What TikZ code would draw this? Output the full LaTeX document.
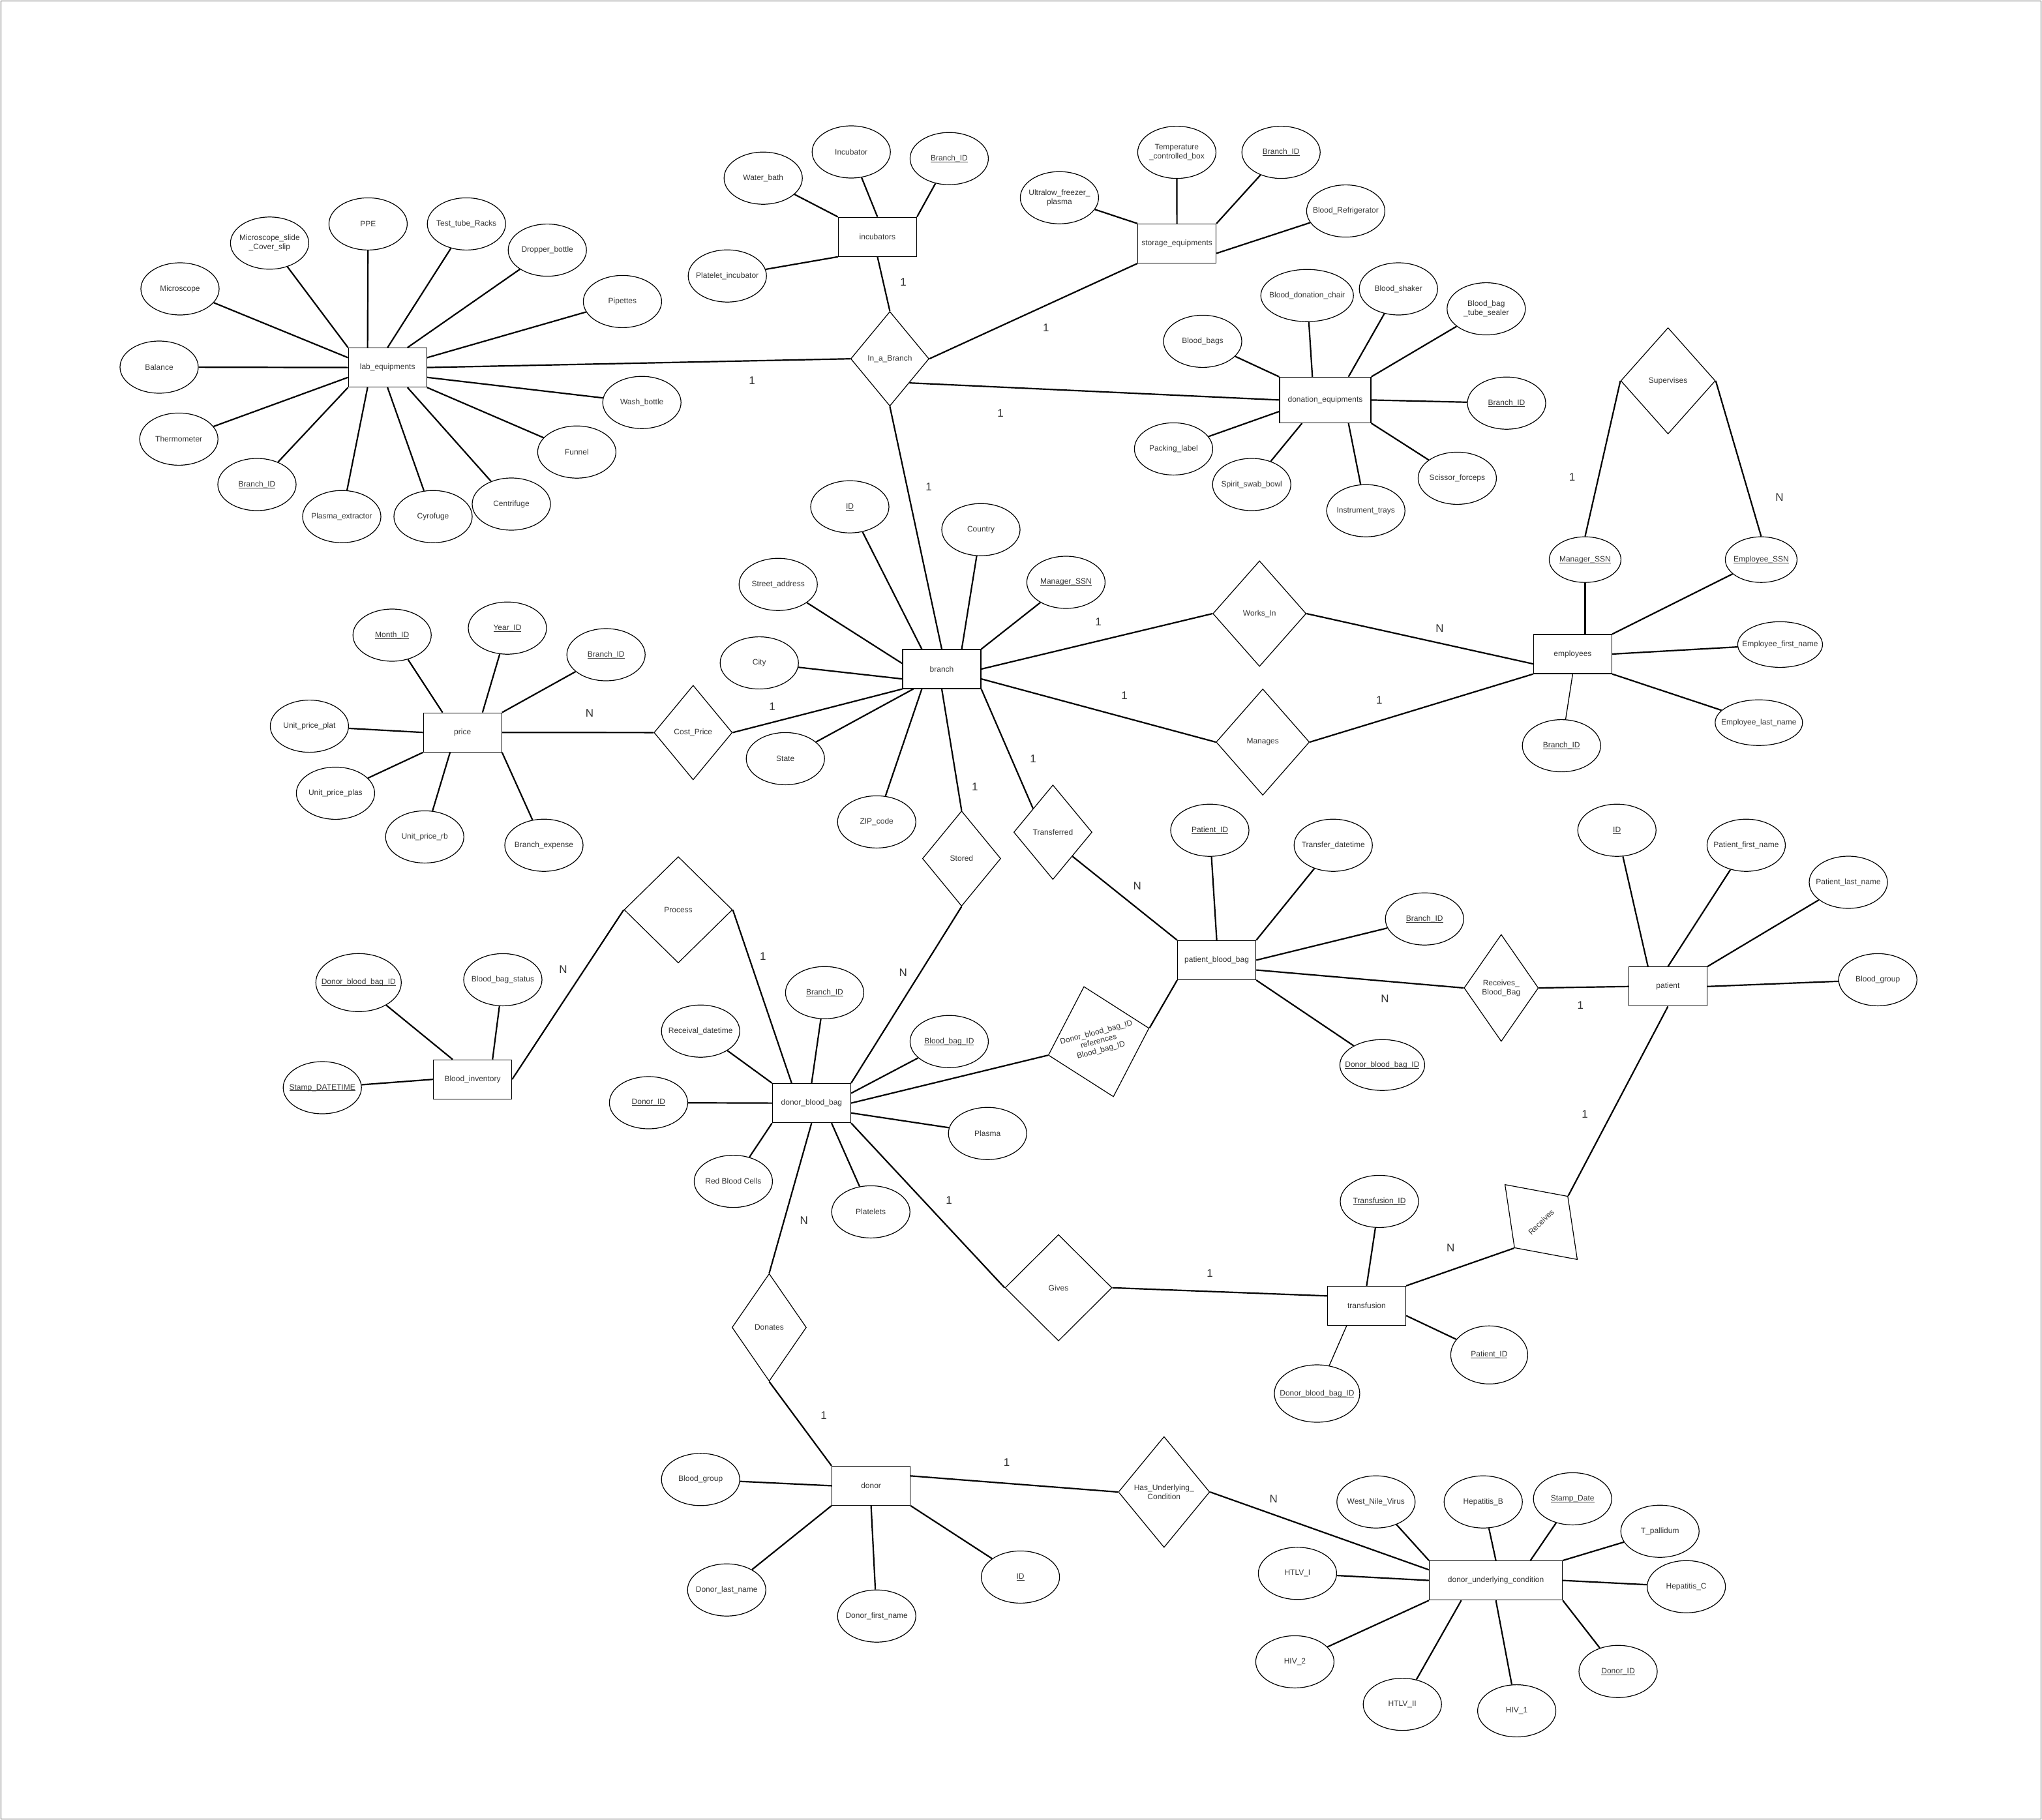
\documentclass[tikz,border=0pt]{standalone}
\usepackage{amsmath}
\usepackage{fontspec}
\setmainfont{Liberation Sans}
\usepackage{tikz}
\usetikzlibrary{shapes.geometric}

\newcommand{\keyattr}[1]{\underline{\smash[b]{#1}}}

\begin{document}
\begin{tikzpicture}[x=2pt, y=-2pt,
    every node/.style={font=\fontsize{12}{14}\selectfont, text=black!80, align=center},
    entity/.style={rectangle, draw=black, line width=1.2pt, minimum width=120pt, minimum height=60pt, inner sep=0pt},
    attr/.style={ellipse, draw=black, line width=1.2pt, minimum width=120pt, minimum height=80pt, inner xsep=-30pt, inner ysep=0pt},
    rel/.style={diamond, draw=black, line width=1.2pt, minimum width=120pt, minimum height=145pt, inner sep=0pt},
    card/.style={font=\fontsize{17}{20}\selectfont},
    link/.style={line width=2.2pt},
    thinlink/.style={line width=1.3pt}]
\useasboundingbox (0,0) rectangle (1565.5,1395.5);
\draw[line width=1.2pt, black!70] (0.6,0.6) rectangle (1564.9,1394.9);

% entities
\node[entity] (lab) at (297.1,281.8) {lab\_equipments};
\node[entity] (inc) at (672.7,181.6) {incubators};
\node[entity] (stor) at (902.3,186.7) {storage\_equipments};
\node[entity, minimum width=140pt, minimum height=70pt] (don) at (1016,306.7) {donation\_equipments};
\node[entity] (br) at (722,513) {branch};
\node[entity] (pr) at (354.6,561.6) {price};
\node[entity] (emp) at (1205.7,501.5) {employees};
\node[entity] (pbb) at (932.8,736.2) {patient\_blood\_bag};
\node[entity] (pat) at (1278.7,756.4) {patient};
\node[entity] (dbb) at (622.2,845.8) {donor\_blood\_bag};
\node[entity] (bi) at (362.3,827.6) {Blood\_inventory};
\node[entity] (dn) at (667.8,1139.2) {donor};
\node[entity] (tr) at (1047.7,1001.2) {transfusion};
\node[entity, minimum width=204pt] (duc) at (1146.8,1211.8) {donor\_underlying\_condition};

% relationships
\node[rel] (inb) at (682.2,275.1) {In\_a\_Branch};
\node[rel] (cost) at (531.4,561.7) {Cost\_Price};
\node[rel, minimum width=143pt, minimum height=162pt] (works) at (965.6,470.5) {Works\_In};
\node[rel, minimum width=143pt, minimum height=163pt] (manages) at (968.1,569) {Manages};
\node[rel, minimum width=145pt, minimum height=163pt] (sup) at (1278.8,292) {Supervises};
\node[rel, minimum height=146pt] (stored) at (737.2,658.3) {Stored};
\node[rel] (transf) at (807.2,638.1) {Transferred};
\node[rel, minimum width=166pt, minimum height=163pt] (proc) at (520,697.6) {Process};
\node[rel, rotate=15, minimum width=160pt, minimum height=175pt] (refs) at (842.3,798.7) {Donor\_blood\_bag\_ID\\references\\Blood\_bag\_ID};
\node[rel, minimum width=114pt, minimum height=164pt] (rbb) at (1150.9,757.5) {Receives\_\\Blood\_Bag};
\node[rel, rotate=44, minimum width=114pt, minimum height=160pt] (rec) at (1181.5,937) {Receives};
\node[rel, minimum width=164pt, minimum height=163pt] (gives) at (811.5,987.4) {Gives};
\node[rel, minimum width=114pt, minimum height=165pt] (donates) at (589.7,1017.8) {Donates};
\node[rel, minimum width=140pt, minimum height=170pt] (huc) at (892.4,1144) {Has\_Underlying\_\\Condition};

% attributes of lab_equipments
\node[attr] (micro) at (138.0,221.5) {Microscope};
\node[attr] (slide) at (206.7,186.4) {Microscope\_slide\\\_Cover\_slip};
\node[attr] (ppe) at (282.2,171.7) {PPE};
\node[attr] (racks) at (357.6,171.7) {Test\_tube\_Racks};
\node[attr] (dropper) at (419.6,191.8) {Dropper\_bottle};
\node[attr] (pipettes) at (477.2,231.2) {Pipettes};
\node[attr] (washb) at (492.1,308.6) {Wash\_bottle};
\node[attr] (funnel) at (442.2,346.6) {Funnel};
\node[attr] (centrif) at (392.0,386.5) {Centrifuge};
\node[attr] (cyro) at (332.0,396.1) {Cyrofuge};
\node[attr] (plasmaex) at (262.0,396.1) {Plasma\_extractor};
\node[attr] (labbid) at (197.0,371.5) {\keyattr{Branch\_ID}};
\node[attr] (thermo) at (137.1,336.7) {Thermometer};
\node[attr] (balance) at (122.0,281.5) {Balance};

% attributes of incubators
\node[attr] (waterbath) at (585.1,136.6) {Water\_bath};
\node[attr] (incubator) at (652.6,116.5) {Incubator};
\node[attr] (incbid) at (727.7,121.6) {\keyattr{Branch\_ID}};
\node[attr] (platinc) at (557.6,211.6) {Platelet\_incubator};

% attributes of storage_equipments
\node[attr] (ultralow) at (812.2,151.6) {Ultralow\_freezer\_\\plasma};
\node[attr] (tempbox) at (902.2,116.8) {Temperature\\\_controlled\_box};
\node[attr] (storbid) at (982.1,116.8) {\keyattr{Branch\_ID}};
\node[attr] (fridge) at (1031.7,161.8) {Blood\_Refrigerator};

% attributes of donation_equipments
\node[attr] (bags) at (922,261.7) {Blood\_bags};
\node[attr, minimum width=142pt] (chair) at (1002.1,226.6) {Blood\_donation\_chair};
\node[attr] (shaker) at (1072.1,221.5) {Blood\_shaker};
\node[attr] (sealer) at (1139.4,236.8) {Blood\_bag\\\_tube\_sealer};
\node[attr] (donbid) at (1155,309.1) {\keyattr{Branch\_ID}};
\node[attr] (scissor) at (1117.2,366.7) {Scissor\_forceps};
\node[attr] (trays) at (1047.1,391.6) {Instrument\_trays};
\node[attr] (swab) at (959.6,371.5) {Spirit\_swab\_bowl};
\node[attr] (packing) at (899.7,344.2) {Packing\_label};

% attributes of branch
\node[attr] (brid) at (651.5,388.6) {\keyattr{ID}};
\node[attr] (country) at (752.0,406.1) {Country};
\node[attr] (brmgr) at (817.2,446.5) {\keyattr{Manager\_SSN}};
\node[attr] (street) at (596.6,448.1) {Street\_address};
\node[attr] (city) at (582.1,508.3) {City};
\node[attr] (state) at (602.1,581.7) {State};
\node[attr] (zip) at (672.1,630.2) {ZIP\_code};

% attributes of price
\node[attr] (month) at (300.6,487.0) {\keyattr{Month\_ID}};
\node[attr] (year) at (389.0,481.6) {\keyattr{Year\_ID}};
\node[attr] (prbid) at (464.6,502) {\keyattr{Branch\_ID}};
\node[attr] (plat) at (237.2,556.8) {Unit\_price\_plat};
\node[attr] (plas) at (257.2,608.2) {Unit\_price\_plas};
\node[attr] (rb) at (325.6,641.7) {Unit\_price\_rb};
\node[attr] (bexp) at (417,648.1) {Branch\_expense};

% attributes of employees
\node[attr, minimum width=110pt, minimum height=70pt] (mgrssn) at (1215.2,429.1) {\keyattr{Manager\_SSN}};
\node[attr, minimum width=110pt, minimum height=70pt] (essn) at (1350.2,429.1) {\keyattr{Employee\_SSN}};
\node[attr, minimum width=130pt, minimum height=70pt] (efn) at (1364.7,494.2) {Employee\_first\_name};
\node[attr, minimum width=134pt, minimum height=70pt] (eln) at (1348.4,554.1) {Employee\_last\_name};
\node[attr] (empbid) at (1197.1,571.8) {\keyattr{Branch\_ID}};

% attributes of patient_blood_bag
\node[attr] (pid) at (927.5,636.6) {\keyattr{Patient\_ID}};
\node[attr] (tdt) at (1022.1,648.1) {Transfer\_datetime};
\node[attr] (pbbbid) at (1092.1,704.6) {\keyattr{Branch\_ID}};
\node[attr, minimum width=130pt, minimum height=78pt] (pbbdbb) at (1059.7,816.6) {\keyattr{Donor\_blood\_bag\_ID}};

% attributes of patient
\node[attr] (patid) at (1239.6,636.6) {\keyattr{ID}};
\node[attr] (pfn) at (1338.7,648.1) {Patient\_first\_name};
\node[attr] (pln) at (1417.0,676.5) {Patient\_last\_name};
\node[attr] (pbg) at (1439.6,751.2) {Blood\_group};

% attributes of donor_blood_bag
\node[attr] (dbbbid) at (632.2,761.1) {\keyattr{Branch\_ID}};
\node[attr] (recdt) at (537.1,790.6) {Receival\_datetime};
\node[attr] (bbid) at (727.7,798.6) {\keyattr{Blood\_bag\_ID}};
\node[attr] (dbbdid) at (497.2,845.5) {\keyattr{Donor\_ID}};
\node[attr] (plasma) at (757.1,869.1) {Plasma};
\node[attr] (rbc) at (562.2,905.8) {Red Blood Cells};
\node[attr] (platelets) at (667.6,929.2) {Platelets};

% attributes of Blood_inventory
\node[attr, minimum width=131pt, minimum height=89pt] (bidbb) at (274.9,753.4) {\keyattr{Donor\_blood\_bag\_ID}};
\node[attr] (bbs) at (385.5,751.2) {Blood\_bag\_status};
\node[attr] (stamp) at (247.1,834) {\keyattr{Stamp\_DATETIME}};

% attributes of donor
\node[attr] (dbg) at (537.1,1134.4) {Blood\_group};
\node[attr] (dln) at (557.1,1219.1) {Donor\_last\_name};
\node[attr] (dfn) at (672.1,1239.1) {Donor\_first\_name};
\node[attr] (dnid) at (782.3,1209.2) {\keyattr{ID}};

% attributes of transfusion
\node[attr] (trid) at (1057.5,921.2) {\keyattr{Transfusion\_ID}};
\node[attr, minimum width=118pt, minimum height=89pt] (trpid) at (1141.7,1038.9) {\keyattr{Patient\_ID}};
\node[attr, minimum width=131pt, minimum height=88pt] (trdbb) at (1009.7,1068.5) {\keyattr{Donor\_blood\_bag\_ID}};

% attributes of donor_underlying_condition
\node[attr] (wnv) at (1054.9,1151.6) {West\_Nile\_Virus};
\node[attr] (hepb) at (1137.1,1151.6) {Hepatitis\_B};
\node[attr] (stampd) at (1205.6,1149.2) {\keyattr{Stamp\_Date}};
\node[attr] (tpal) at (1272.6,1174.1) {T\_pallidum};
\node[attr] (hepc) at (1292.8,1216.6) {Hepatitis\_C};
\node[attr] (ducdid) at (1240.5,1281.6) {\keyattr{Donor\_ID}};
\node[attr] (hiv1) at (1162.8,1311.8) {HIV\_1};
\node[attr] (htlv2) at (1075.1,1306.8) {HTLV\_II};
\node[attr] (hiv2) at (992.7,1274.2) {HIV\_2};
\node[attr] (htlv1) at (994.7,1206.4) {HTLV\_I};

% lab_equipments
\draw[link] (lab.166) -- (micro);
\draw[link] (lab.north west) -- (slide);
\draw[link] (lab.135) -- (ppe);
\draw[link] (lab.north) -- (racks);
\draw[link] (lab.45) -- (dropper);
\draw[link] (lab.14) -- (pipettes);
\draw[link] (lab.east) -- (inb.west);
\draw[link] (lab.-14) -- (washb);
\draw[link] (lab.south east) -- (funnel);
\draw[link] (lab.-45) -- (centrif);
\draw[link] (lab.south) -- (cyro);
\draw[link] (lab.225) -- (plasmaex);
\draw[link] (lab.south west) -- (labbid);
\draw[link] (lab.194) -- (thermo);
\draw[link] (lab.west) -- (balance);

% incubators
\draw[link] (inc.north west) -- (waterbath);
\draw[link] (inc.north) -- (incubator);
\draw[link] (inc.north east) -- (incbid);
\draw[link] (inc.south west) -- (platinc);
\draw[link] (inc.south) -- (inb.north);

% storage_equipments
\draw[link] (stor.north west) -- (ultralow);
\draw[link] (stor.north) -- (tempbox);
\draw[link] (stor.north east) -- (storbid);
\draw[link] (stor.-14) -- (fridge);
\draw[link] (stor.south west) -- (inb.east);

% donation_equipments
\draw[link] (don.north west) -- (bags);
\draw[link] (don.119) -- (chair);
\draw[link] (don.45) -- (shaker);
\draw[link] (don.north east) -- (sealer);
\draw[link] (don.east) -- (donbid);
\draw[link] (don.south east) -- (scissor);
\draw[link] (don.-45) -- (trays);
\draw[link] (don.225) -- (swab);
\draw[link] (don.194) -- (packing);
\draw[link] (don.west) -- (inb.-51);

% branch
\draw[link] (inb.south) -- (br.north);
\draw[link] (br.135) -- (brid);
\draw[link] (br.45) -- (country);
\draw[link] (br.north east) -- (brmgr);
\draw[link] (br.172) -- (street);
\draw[link] (br.194) -- (city);
\draw[link] (br.215) -- (state);
\draw[link] (br.225) -- (zip);
\draw[link] (br.south west) -- (cost.east);
\draw[link] (br.south) -- (stored.north);
\draw[link] (br.south east) -- (transf.130);
\draw[link] (br.east) -- (works.west);
\draw[link] (br.-14) -- (manages.west);

% price
\draw[link] (pr.135) -- (month);
\draw[link] (pr.45) -- (year);
\draw[link] (pr.north east) -- (prbid);
\draw[link] (pr.west) -- (plat);
\draw[link] (pr.south west) -- (plas);
\draw[link] (pr.238) -- (rb);
\draw[link] (pr.south east) -- (bexp);
\draw[link] (pr.east) -- (cost.west);

% employees
\draw[link] (works.east) -- (emp.194);
\draw[link] (manages.east) -- (emp.south west);
\draw[link] (sup.west) -- (mgrssn.north);
\draw[link] (sup.east) -- (essn.north);
\draw[link] (mgrssn.south) -- (mgrssn.south |- emp.north);
\draw[link] (emp.north east) -- (essn);
\draw[link] (emp.east) -- (efn);
\draw[link] (emp.south east) -- (eln);
\draw[thinlink] (emp.south) -- (empbid);

% patient_blood_bag
\draw[link] (transf.-51) -- (pbb.north west);
\draw[link] (pbb.north) -- (pid);
\draw[link] (pbb.north east) -- (tdt);
\draw[link] (pbb.east) -- (pbbbid);
\draw[link] (pbb.-14) -- (rbb.west);
\draw[link] (pbb.south east) -- (pbbdbb);
\draw[link] (pbb.south west) -- (refs.east);

% patient
\draw[link] (pat.135) -- (patid);
\draw[link] (pat.north) -- (pfn);
\draw[link] (pat.north east) -- (pln);
\draw[link] (pat.east) -- (pbg);
\draw[link] (pat.west) -- (rbb.east);
\draw[link] (pat.south) -- (rec.east);

% donor_blood_bag
\draw[link] (dbb.north west) -- (recdt);
\draw[link] (dbb.135) -- (proc.east);
\draw[link] (dbb.north) -- (dbbbid);
\draw[link] (dbb.north east) -- (stored.south);
\draw[link] (dbb.14) -- (bbid);
\draw[link] (dbb.east) -- (refs.west);
\draw[link] (dbb.-14) -- (plasma);
\draw[link] (dbb.south east) -- (gives.west);
\draw[link] (dbb.-45) -- (platelets);
\draw[link] (dbb.south) -- (donates.north);
\draw[link] (dbb.south west) -- (rbc);
\draw[link] (dbb.west) -- (dbbdid);

% Blood_inventory
\draw[link] (bi.135) -- (bidbb);
\draw[link] (bi.45) -- (bbs);
\draw[link] (bi.west) -- (stamp);
\draw[link] (bi.east) -- (proc.west);

% donor
\draw[link] (donates.south) -- (dn.north west);
\draw[link] (dn.west) -- (dbg);
\draw[link] (dn.south west) -- (dln);
\draw[link] (dn.south) -- (dfn);
\draw[link] (dn.south east) -- (dnid);
\draw[link] (dn.14) -- (huc.west);

% transfusion
\draw[link] (gives.east) -- (tr.166);
\draw[link] (tr.north) -- (trid);
\draw[link] (tr.north east) -- (rec.west);
\draw[link] (tr.-14) -- (trpid);
\draw[thinlink] (tr.225) -- (trdbb);

% donor_underlying_condition
\draw[link] (huc.east) -- (duc.171.6);
\draw[link] (duc.north west) -- (wnv);
\draw[link] (duc.north) -- (hepb);
\draw[link] (duc.30.5) -- (stampd);
\draw[link] (duc.north east) -- (tpal);
\draw[link] (duc.east) -- (hepc);
\draw[link] (duc.south east) -- (ducdid);
\draw[link] (duc.south) -- (hiv1);
\draw[link] (duc.210.5) -- (htlv2);
\draw[link] (duc.south west) -- (hiv2);
\draw[link] (duc.west) -- (htlv1);

% cardinalities
\node[card] (c1) at (692.6,216.1) {1};
\node[card] (c2) at (576.6,292) {1};
\node[card] (c3) at (801.9,251.5) {1};
\node[card] (c4) at (767,316.6) {1};
\node[card] (c5) at (712.1,373.4) {1};
\node[card] (c6) at (842,477) {1};
\node[card] (c7) at (1103.8,481.6) {N};
\node[card] (c8) at (862,533.2) {1};
\node[card] (c9) at (1057.4,536.7) {1};
\node[card] (c10) at (1205.3,365.9) {1};
\node[card] (c11) at (1364.2,381.2) {N};
\node[card] (c12) at (452,546.6) {N};
\node[card] (c13) at (592,541.8) {1};
\node[card] (c14) at (792,581.7) {1};
\node[card] (c15) at (871.9,679.4) {N};
\node[card] (c16) at (747.4,603.1) {1};
\node[card] (c17) at (692.4,745.9) {N};
\node[card] (c18) at (584.9,733.5) {1};
\node[card] (c19) at (431.7,743.2) {N};
\node[card] (c20) at (1061.8,766) {N};
\node[card] (c21) at (1211.7,770.8) {1};
\node[card] (c22) at (1215,854.1) {1};
\node[card] (c23) at (1112.1,956.6) {N};
\node[card] (c24) at (727.5,920.4) {1};
\node[card] (c25) at (927.5,976.4) {1};
\node[card] (c26) at (616.4,936) {N};
\node[card] (c27) at (631.5,1085.5) {1};
\node[card] (c28) at (771.8,1121.2) {1};
\node[card] (c29) at (976.4,1149.2) {N};
\end{tikzpicture}
\end{document}
